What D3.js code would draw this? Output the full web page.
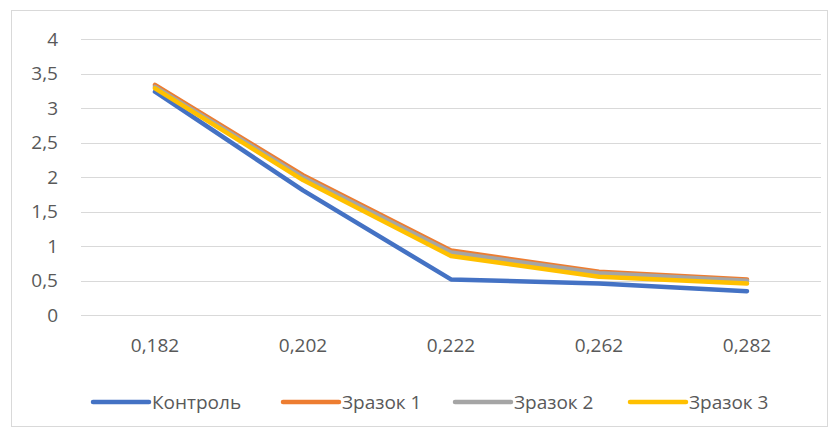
<!DOCTYPE html>
<html>
<head>
<meta charset="utf-8">
<script src="https://cdn.jsdelivr.net/npm/d3@7"></script>
<style>
  html, body { margin: 0; padding: 0; background: #fff; }
  svg { display: block; }
  text { font-family: "Open Sans", "Noto Sans", sans-serif; fill: #595959; }
</style>
</head>
<body>
<svg id="chart" width="838" height="432"></svg>
<script>
const categories = ["0,182", "0,202", "0,222", "0,262", "0,282"];
const seriesNames = ["Контроль", "Зразок 1", "Зразок 2", "Зразок 3"];
const seriesColors = ["#4472C4", "#ED7D31", "#A5A5A5", "#FFC000"];
const control = [3.24, 1.81, 0.52, 0.46, 0.35];
const sample1 = [3.34, 2.03, 0.94, 0.63, 0.52];
const sample2 = [3.31, 2.00, 0.91, 0.61, 0.50];
const sample3 = [3.29, 1.96, 0.86, 0.56, 0.46];
const yTicks = [0, 0.5, 1, 1.5, 2, 2.5, 3, 3.5, 4];

const seriesValues = [control, sample1, sample2, sample3];

const svg = d3.select("#chart");
const FONT = '"Open Sans", "Noto Sans", sans-serif';

// outer frame
svg.append("rect")
  .attr("x", 11.5).attr("y", 10.5)
  .attr("width", 816).attr("height", 416)
  .attr("fill", "none").attr("stroke", "#d9d9d9").attr("stroke-width", 1);

const plot = { left: 81, right: 821, top: 39.3, bottom: 315.3 };

const x = d3.scaleBand().domain(categories).range([plot.left, plot.right]);
const y = d3.scaleLinear().domain([0, 4]).range([plot.bottom, plot.top]);

// gridlines
svg.append("g")
  .selectAll("line")
  .data(yTicks)
  .join("line")
  .attr("x1", plot.left).attr("x2", plot.right)
  .attr("y1", d => Math.round(y(d)) + 0.5).attr("y2", d => Math.round(y(d)) + 0.5)
  .attr("stroke", "#d9d9d9").attr("stroke-width", 1);

// y axis labels
const fmt = d => String(d).replace(".", ",");
const yAxis = d3.axisLeft(y).tickValues(yTicks).tickFormat(fmt).tickSize(0).tickPadding(0);
const gy = svg.append("g").attr("transform", "translate(58,0)").call(yAxis);
gy.select(".domain").remove();
gy.selectAll("text")
  .attr("font-size", 19)
  .style("font-family", FONT)
  .attr("fill", "#595959");

// x axis labels
const xAxis = d3.axisBottom(x).tickSize(0).tickPadding(0);
const gx = svg.append("g").attr("transform", "translate(0,338)").call(xAxis);
gx.select(".domain").remove();
gx.selectAll("text")
  .attr("font-size", 19)
  .style("font-family", FONT)
  .attr("fill", "#595959");

// lines
const line = d3.line()
  .x((d, i) => x(categories[i]) + x.bandwidth() / 2)
  .y(d => y(d));

svg.append("g")
  .selectAll("path")
  .data(seriesValues)
  .join("path")
  .attr("d", d => line(d))
  .attr("fill", "none")
  .attr("stroke", (d, i) => seriesColors[i])
  .attr("stroke-width", 4.5)
  .attr("stroke-linejoin", "round")
  .attr("stroke-linecap", "round");

// legend
const legendX = [93, 283, 455, 630];
const legendY = 402;
const lg = svg.append("g");
seriesNames.forEach((name, i) => {
  const lx = legendX[i];
  lg.append("line")
    .attr("x1", lx).attr("x2", lx + 56)
    .attr("y1", legendY).attr("y2", legendY)
    .attr("stroke", seriesColors[i]).attr("stroke-width", 4.5)
    .attr("stroke-linecap", "round");
  lg.append("text")
    .attr("x", lx + 59).attr("y", legendY)
    .attr("dy", "0.35em")
    .attr("font-size", 19)
    .text(name);
});
</script>
</body>
</html>
